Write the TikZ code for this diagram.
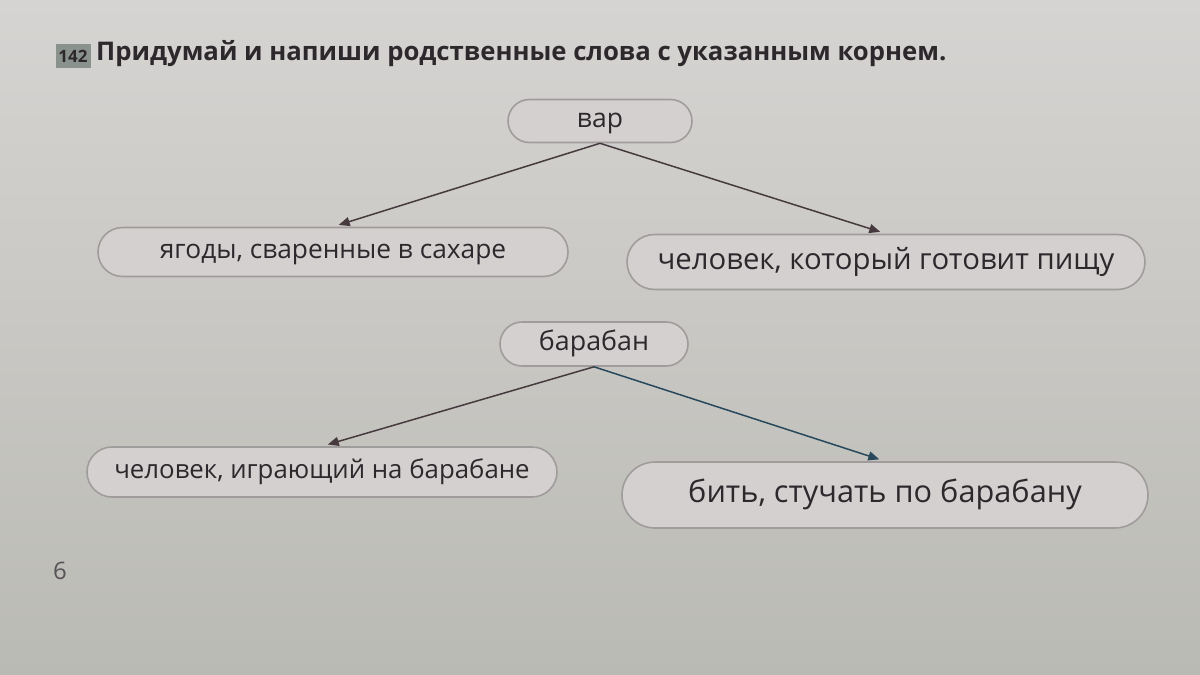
\documentclass[tikz,border=0pt]{standalone}
\usepackage{fontspec}
\setmainfont{Open Sans}
\usetikzlibrary{arrows.meta}
\definecolor{paper}{RGB}{214,212,210}
\definecolor{paperdark}{RGB}{186,186,180}
\definecolor{boxline}{RGB}{160,156,156}
\definecolor{boxfill}{RGB}{212,208,208}
\definecolor{ink}{RGB}{45,40,44}
\definecolor{arrowink}{RGB}{70,58,62}
\definecolor{arrowblue}{RGB}{40,72,92}
\definecolor{numbox}{RGB}{138,146,142}
\tikzset{
  pill/.style n args={3}{rectangle, draw=boxline, line width=1.6pt, fill=boxfill,
    minimum width=#1pt, minimum height=#2pt, rounded corners=#2*0.5pt,
    text=ink, font=\fontsize{#3}{32}\selectfont, inner sep=0pt, anchor=center,
    text height=#3*0.52pt, text depth=0pt},
  conn/.style={draw=arrowink, line width=1.5pt, -{Triangle[length=11pt,width=9pt]}, shorten >=6pt},
}
\begin{document}
\begin{tikzpicture}[x=1pt,y=-1pt]
\shade[top color=paper, bottom color=paperdark] (0,0) rectangle (1200,675);
\useasboundingbox (0,0) rectangle (1200,675);
% number box and title
\node[fill=numbox, text=ink, font=\bfseries\fontsize{17}{19}\selectfont, minimum width=35pt, minimum height=24pt, inner sep=0pt] (num) at (73,56) {142};
\node[anchor=west, text=ink, font=\bfseries\fontsize{25.7}{30}\selectfont, inner sep=0pt] (title) at (96,54) {Придумай и напиши родственные слова с указанным корнем.};
% first tree
\node[pill={184}{43}{26.5}] (var) at (600,121) {вар};
\node[pill={470}{49}{26.3}] (yag) at (333,252) {ягоды, сваренные в сахаре};
\node[pill={518}{55}{29.3}] (chel) at (886,262) {человек, который готовит пищу};
\draw[conn] (var.south) -- (yag.north);
\draw[conn] (var.south) -- (chel.north);
% second tree
\node[pill={188}{44}{26.8}] (bar) at (594,344) {барабан};
\node[pill={470}{50}{25.8}] (igr) at (322,472) {человек, играющий на барабане};
\node[pill={526}{66}{30.7}] (bit) at (885,495) {бить, стучать по барабану};
\draw[conn] (bar.south) -- (igr.north);
\draw[conn, draw=arrowblue] (bar.south) -- (bit.north);
% page number
\node[text=ink!80, font=\fontsize{24}{26}\selectfont, inner sep=0pt] (page) at (60,571) {6};
\end{tikzpicture}
\end{document}
